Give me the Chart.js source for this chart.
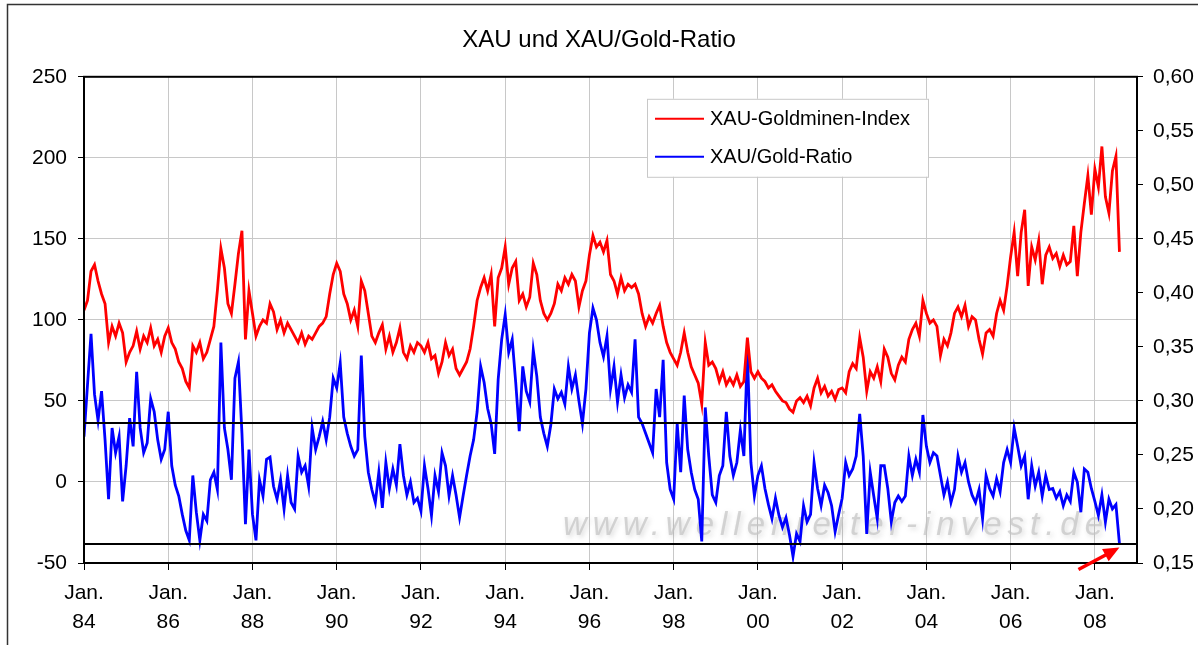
<!DOCTYPE html>
<html>
<head>
<meta charset="utf-8">
<title>XAU und XAU/Gold-Ratio</title>
<script src="https://cdn.jsdelivr.net/npm/chart.js@4/dist/chart.umd.min.js"></script>
<style>
  html, body { margin: 0; padding: 0; background: #fff; }
  canvas { display: block; }
</style>
</head>
<body>
<canvas id="chart" width="1198" height="645"></canvas>
<script>
// monthly values, first one = Jan. 1984, last one = Aug. 2008
const START_YEAR = 1984;

const xauIndex = [
  106, 112, 130, 134, 124, 116, 110,  86,  96,  90,  98,  92,   // 84
   74,  80,  84,  93,  82,  90,  86,  95,  84,  88,  80,  90,   // 85
   95,  86,  82,  74,  70,  62,  58,  84,  80,  86,  76,  80,   // 86
   88,  96, 118, 144, 132, 110, 104, 122, 141, 155,  88, 118,   // 87
  104,  90,  96, 100,  98, 110, 105,  94, 100,  92,  98,  94,   // 88
   90,  86,  92,  85,  90,  88,  92,  96,  98, 102, 116, 128,   // 89
  135, 130, 116, 110, 100, 106,  96, 124, 118, 104,  90,  86,   // 90
   92,  97,  82,  90,  80,  86,  95,  80,  76,  84,  80,  86,   // 91
   84,  80,  86,  76,  78,  67,  74,  86,  78,  82,  70,  66,   // 92
   70,  74,  82,  96, 112, 120, 126, 118, 128,  96, 126, 132,   // 93
  145, 122, 132, 136, 112, 116, 108, 114, 135, 128, 112, 104,   // 94
  100, 104, 110, 122, 118, 126, 122, 128, 124, 108, 118, 124,   // 95
  140, 152, 145, 148, 142, 149, 128, 124, 116, 126, 118, 122,   // 96
  120, 122, 116, 104,  96, 102,  98, 104, 109,  96,  86,  80,   // 97
   76,  72,  80,  92,  80,  71,  66,  61,  48,  86,  72,  74,   // 98
   70,  62,  68,  60,  64,  60,  66,  59,  62,  89,  68,  64,   // 99
   68,  64,  62,  58,  60,  56,  53,  50,  49,  45,  43,  50,   // 00
   52,  49,  53,  47,  58,  64,  55,  59,  53,  56,  51,  57,   // 01
   58,  55,  68,  73,  70,  89,  77,  56,  68,  64,  71,  62,   // 02
   82,  77,  67,  63,  72,  77,  74,  88,  94,  98,  90, 112,   // 03
  104,  98, 100,  96,  78,  88,  84,  92, 104, 108, 102, 109,   // 04
   96, 102, 100,  88,  79,  92,  94,  90, 104, 112, 106, 121,   // 05
  139, 154, 127, 154, 168, 121, 145, 137, 149, 122, 140, 145,   // 06
  138, 141, 133, 140, 134, 136, 158, 127, 154, 172, 189, 165,   // 07
  193, 182, 207, 176, 166, 192, 201, 142                        // 08
];

const xauGoldRatio = [
  0.267, 0.315, 0.362, 0.306, 0.282, 0.309, 0.264, 0.209, 0.275, 0.252, 0.267, 0.207, // 84
  0.240, 0.284, 0.258, 0.327, 0.275, 0.252, 0.261, 0.302, 0.290, 0.264, 0.246, 0.255, // 85
  0.290, 0.240, 0.222, 0.212, 0.195, 0.180, 0.171, 0.231, 0.197, 0.171, 0.195, 0.189, // 86
  0.227, 0.234, 0.218, 0.354, 0.275, 0.255, 0.227, 0.321, 0.336, 0.270, 0.186, 0.255, // 87
  0.195, 0.171, 0.227, 0.212, 0.246, 0.248, 0.221, 0.209, 0.227, 0.200, 0.231, 0.206, // 88
  0.200, 0.249, 0.234, 0.240, 0.221, 0.275, 0.255, 0.267, 0.281, 0.264, 0.285, 0.321, // 89
  0.312, 0.335, 0.285, 0.270, 0.258, 0.249, 0.255, 0.342, 0.267, 0.234, 0.218, 0.206, // 90
  0.234, 0.201, 0.243, 0.219, 0.237, 0.222, 0.260, 0.231, 0.213, 0.225, 0.206, 0.210, // 91
  0.198, 0.240, 0.219, 0.194, 0.231, 0.216, 0.252, 0.240, 0.212, 0.231, 0.213, 0.192, // 92
  0.212, 0.231, 0.249, 0.264, 0.290, 0.332, 0.317, 0.293, 0.279, 0.251, 0.320, 0.357, // 93
  0.380, 0.345, 0.357, 0.317, 0.272, 0.332, 0.309, 0.299, 0.347, 0.323, 0.285, 0.270, // 94
  0.258, 0.278, 0.311, 0.302, 0.308, 0.297, 0.332, 0.311, 0.324, 0.300, 0.279, 0.311, // 95
  0.363, 0.386, 0.375, 0.354, 0.341, 0.360, 0.311, 0.332, 0.299, 0.324, 0.303, 0.315, // 96
  0.308, 0.357, 0.285, 0.279, 0.270, 0.261, 0.252, 0.311, 0.285, 0.338, 0.243, 0.218, // 97
  0.209, 0.279, 0.234, 0.305, 0.255, 0.234, 0.218, 0.209, 0.170, 0.294, 0.249, 0.213, // 98
  0.206, 0.231, 0.240, 0.290, 0.249, 0.231, 0.243, 0.273, 0.249, 0.345, 0.243, 0.212, // 99
  0.231, 0.240, 0.219, 0.204, 0.191, 0.210, 0.194, 0.183, 0.192, 0.176, 0.156, 0.177, // 00
  0.170, 0.203, 0.188, 0.195, 0.243, 0.219, 0.203, 0.222, 0.215, 0.203, 0.179, 0.195, // 01
  0.210, 0.243, 0.231, 0.237, 0.249, 0.288, 0.249, 0.177, 0.234, 0.212, 0.191, 0.240, // 02
  0.240, 0.219, 0.188, 0.206, 0.212, 0.207, 0.212, 0.249, 0.231, 0.246, 0.234, 0.287, // 03
  0.258, 0.243, 0.252, 0.249, 0.231, 0.213, 0.225, 0.206, 0.218, 0.249, 0.234, 0.243, // 04
  0.225, 0.213, 0.206, 0.218, 0.191, 0.231, 0.219, 0.212, 0.228, 0.216, 0.243, 0.255, // 05
  0.243, 0.275, 0.258, 0.240, 0.249, 0.209, 0.240, 0.221, 0.234, 0.212, 0.231, 0.218, // 06
  0.219, 0.210, 0.216, 0.203, 0.213, 0.207, 0.234, 0.225, 0.197, 0.237, 0.234, 0.219, // 07
  0.207, 0.194, 0.213, 0.188, 0.209, 0.200, 0.204, 0.168                              // 08
];

const tickYears  = [1984, 1986, 1988, 1990, 1992, 1994, 1996, 1998, 2000, 2002, 2004, 2006, 2008];
const tickLabels = ['84', '86', '88', '90', '92', '94', '96', '98', '00', '02', '04', '06', '08'];
const ratioLines = [0.28, 0.168];   // black horizontal lines on the ratio axis

const FONT = 'Arial, "Liberation Sans", sans-serif';
const WATERMARK = 'www.wellenreiter-invest.de';

const toPoints = arr => arr.map((v, i) => ({ x: START_YEAR + i / 12, y: v }));

Chart.defaults.font.family = FONT;
Chart.defaults.color = '#000';

const framePlugin = {
  id: 'frame',
  beforeDraw(chart) {
    const { ctx } = chart;
    ctx.save();
    ctx.fillStyle = '#fff';
    ctx.fillRect(0, 0, chart.width, chart.height);
    ctx.strokeStyle = '#333';
    ctx.lineWidth = 1.5;
    ctx.strokeRect(7.5, 4.5, chart.width + 20, chart.height + 20);
    ctx.restore();
  },
};

const watermarkPlugin = {
  id: 'watermark',
  beforeDatasetsDraw(chart) {
    const { ctx, chartArea: a } = chart;
    ctx.save();
    ctx.font = 'italic 33px ' + FONT;
    if ('letterSpacing' in ctx) ctx.letterSpacing = '6px';
    ctx.textBaseline = 'alphabetic';
    ctx.shadowColor = 'rgba(120,120,120,0.4)';
    ctx.shadowBlur = 5;
    ctx.shadowOffsetX = 2;
    ctx.shadowOffsetY = 2;
    ctx.fillStyle = 'rgba(195,195,195,0.7)';
    ctx.fillText(WATERMARK, a.left + 479, a.bottom - 28);
    ctx.restore();
  },
};

const overlayPlugin = {
  id: 'overlay',
  afterDatasetsDraw(chart) {
    const { ctx, chartArea: a, scales } = chart;
    ctx.save();

    // ratio support lines
    ctx.strokeStyle = '#000';
    ctx.lineWidth = 2;
    ratioLines.forEach(r => {
      const y = Math.round(scales.y1.getPixelForValue(r));
      ctx.beginPath();
      ctx.moveTo(a.left, y);
      ctx.lineTo(a.right, y);
      ctx.stroke();
    });

    // plot frame
    ctx.strokeRect(a.left, a.top, a.right - a.left, a.bottom - a.top);

    // legend box
    const lx = a.left + 563, ly = a.top + 22, lw = 281, lh = 78;
    ctx.fillStyle = '#fff';
    ctx.fillRect(lx, ly, lw, lh);
    ctx.strokeStyle = '#c8c8c8';
    ctx.lineWidth = 1;
    ctx.strokeRect(lx + 0.5, ly + 0.5, lw, lh);
    ctx.font = '20px ' + FONT;
    ctx.textBaseline = 'alphabetic';
    chart.data.datasets.forEach((ds, i) => {
      const y = ly + 20 + i * 38;
      ctx.strokeStyle = ds.borderColor;
      ctx.lineWidth = 2;
      ctx.beginPath();
      ctx.moveTo(lx + 8, y);
      ctx.lineTo(lx + 57, y);
      ctx.stroke();
      ctx.fillStyle = '#000';
      ctx.fillText(ds.label, lx + 63, y + 6);
    });
    ctx.restore();
  },
  afterDraw(chart) {
    // red arrow pointing at the last ratio value
    const { ctx } = chart;
    const pts = chart.getDatasetMeta(1).data;
    const last = pts[pts.length - 1];
    const tx = last.x, ty = last.y + 4;
    const sx = tx - 41, sy = ty + 22;
    const ang = Math.atan2(ty - sy, tx - sx);
    ctx.save();
    ctx.strokeStyle = '#ff0000';
    ctx.fillStyle = '#ff0000';
    ctx.lineWidth = 3.5;
    ctx.beginPath();
    ctx.moveTo(sx, sy);
    ctx.lineTo(tx - 12 * Math.cos(ang), ty - 12 * Math.sin(ang));
    ctx.stroke();
    ctx.beginPath();
    ctx.moveTo(tx, ty);
    ctx.lineTo(tx - 16 * Math.cos(ang) + 7 * Math.sin(ang), ty - 16 * Math.sin(ang) - 7 * Math.cos(ang));
    ctx.lineTo(tx - 16 * Math.cos(ang) - 7 * Math.sin(ang), ty - 16 * Math.sin(ang) + 7 * Math.cos(ang));
    ctx.closePath();
    ctx.fill();
    ctx.restore();
  },
};

new Chart(document.getElementById('chart'), {
  type: 'line',
  data: {
    datasets: [
      {
        label: 'XAU-Goldminen-Index',
        data: toPoints(xauIndex),
        yAxisID: 'y',
        borderColor: '#ff0000',
        borderWidth: 2.8,
        pointRadius: 0,
        tension: 0,
      },
      {
        label: 'XAU/Gold-Ratio',
        data: toPoints(xauGoldRatio),
        yAxisID: 'y1',
        borderColor: '#0000ff',
        borderWidth: 2.8,
        pointRadius: 0,
        tension: 0,
      },
    ],
  },
  options: {
    responsive: false,
    animation: false,
    events: [],
    layout: { padding: 0 },
    plugins: {
      legend: { display: false },
      tooltip: { enabled: false },
      title: {
        display: true,
        text: 'XAU und XAU/Gold-Ratio',
        color: '#000',
        font: { size: 24, weight: 'normal', lineHeight: 1.2 },
        padding: { top: 26, bottom: 22 },
      },
    },
    scales: {
      x: {
        type: 'linear',
        min: 1984,
        max: 2009,
        afterFit: s => { s.height = 82; },
        border: { color: '#000', width: 2 },
        grid: { color: '#c8c8c8', lineWidth: 1, tickColor: '#000', tickLength: 7 },
        ticks: {
          stepSize: 2,
          includeBounds: false,
          autoSkip: false,
          maxRotation: 0,
          padding: 9,
          font: { size: 21, lineHeight: 1.38 },
          callback: v => {
            const i = tickYears.indexOf(v);
            return i < 0 ? '' : ['Jan.', tickLabels[i]];
          },
        },
      },
      y: {
        position: 'left',
        min: -50,
        max: 250,
        afterFit: s => { s.width = 84; },
        border: { color: '#000', width: 2 },
        grid: { color: '#c8c8c8', lineWidth: 1, tickColor: '#000', tickLength: 6 },
        ticks: { stepSize: 50, padding: 11, font: { size: 21 } },
      },
      y1: {
        position: 'right',
        min: 0.15,
        max: 0.60,
        afterFit: s => { s.width = 61; },
        border: { color: '#000', width: 2 },
        grid: { drawOnChartArea: false, tickColor: '#000', tickLength: 6 },
        ticks: {
          stepSize: 0.05,
          padding: 10,
          font: { size: 21 },
          callback: v => v.toFixed(2).replace('.', ','),
        },
      },
    },
  },
  plugins: [framePlugin, watermarkPlugin, overlayPlugin],
});
</script>
</body>
</html>
